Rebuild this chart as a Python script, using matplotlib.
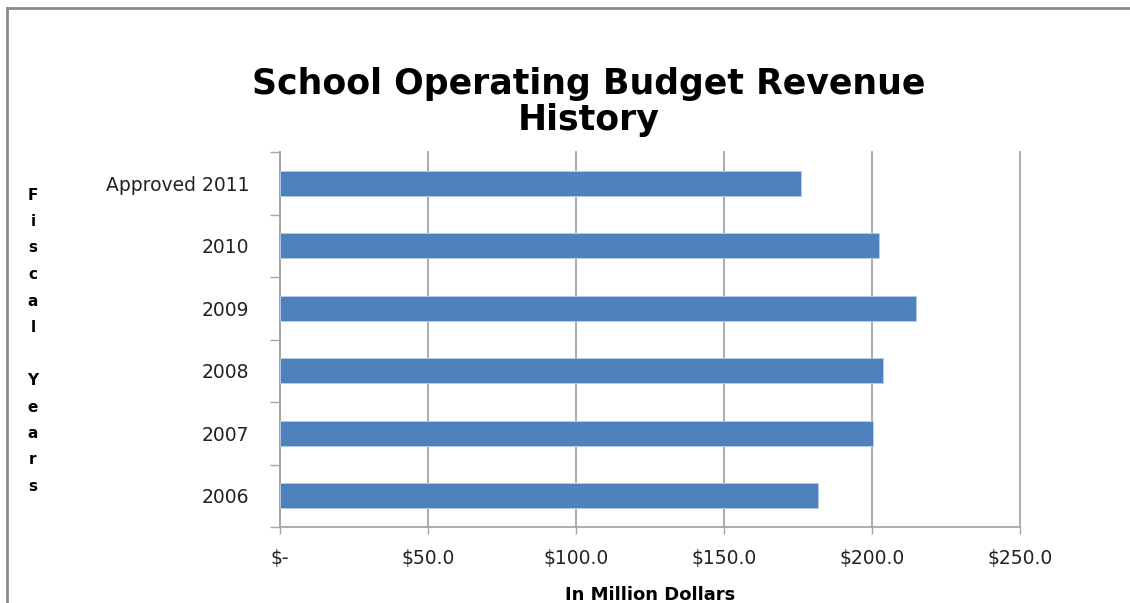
import matplotlib
matplotlib.use('Agg')
import matplotlib.pyplot as plt
from matplotlib.lines import Line2D
from matplotlib.ticker import FuncFormatter, FixedLocator
import numpy as np

plt.rcParams['font.family'] = ['DejaVu Sans']

years = ["2006", "2007", "2008", "2009", "2010", "Approved 2011"]
revenue = [181.9, 200.2, 203.7, 214.8, 202.2, 176.1]  # million dollars
x_ticks = [0, 50, 100, 150, 200, 250]

bar_color = '#4F81BD'
grid_color = '#A6A6A6'

W, H = 1130, 603
fig = plt.figure(figsize=(W / 100, H / 100), dpi=100)
ax = fig.add_axes([280 / W, 1 - 527 / H, 740 / W, 375 / H])

y = np.arange(len(years))
ax.barh(y, revenue, height=0.4, color=bar_color, edgecolor='#B9CDE5', linewidth=0.6, zorder=3)

ax.set_xlim(0, 250)
ax.set_ylim(-0.5, len(years) - 0.5)

# x axis: dollar labels, vertical gridlines
ax.set_xticks(x_ticks)
ax.xaxis.set_major_formatter(FuncFormatter(lambda v, p: '$-' if v == 0 else f'${v:.1f}'))
ax.tick_params(axis='x', length=5, width=1, color=grid_color, pad=11,
               labelsize=13.5, labelcolor='#222222')
ax.grid(axis='x', color=grid_color, linewidth=1.3, zorder=0)
for gl in ax.get_xgridlines():
    gl.set_clip_on(False)

# y axis: labels at category centers, tick marks between categories
ax.set_yticks(y)
ax.set_yticklabels(years)
ax.yaxis.set_minor_locator(FixedLocator(np.arange(-0.5, len(years), 1.0)))
ax.tick_params(axis='y', which='major', length=0, pad=22, labelsize=13.5, labelcolor='#222222')
ax.tick_params(axis='y', which='minor', length=7, width=1, color=grid_color)

for side in ['top', 'right']:
    ax.spines[side].set_visible(False)
for side in ['left', 'bottom']:
    ax.spines[side].set_color(grid_color)
    ax.spines[side].set_linewidth(1.3)

ax.set_xlabel('In Million Dollars', fontsize=13, fontweight='bold', labelpad=13)

fig.text(0.521, 1 - 102 / H, 'School Operating Budget Revenue\nHistory', ha='center', va='center',
         fontsize=25, fontweight='bold', linespacing=1.1)

# stacked vertical axis title, one letter per row
for i, ch in enumerate('Fiscal Years'):
    if ch != ' ':
        fig.text(33 / W, 1 - (195 + i * 26.5) / H, ch, ha='center', va='center',
                 fontsize=11, fontweight='bold')

# outer chart frame
fig.add_artist(Line2D([7 / W, 1.0], [1 - 8 / H, 1 - 8 / H], transform=fig.transFigure,
                      color='#8C8C8C', linewidth=2))
fig.add_artist(Line2D([7 / W, 7 / W], [0.0, 1 - 8 / H], transform=fig.transFigure,
                      color='#8C8C8C', linewidth=2))

fig.savefig('out.png', dpi=100)
plt.close(fig)
